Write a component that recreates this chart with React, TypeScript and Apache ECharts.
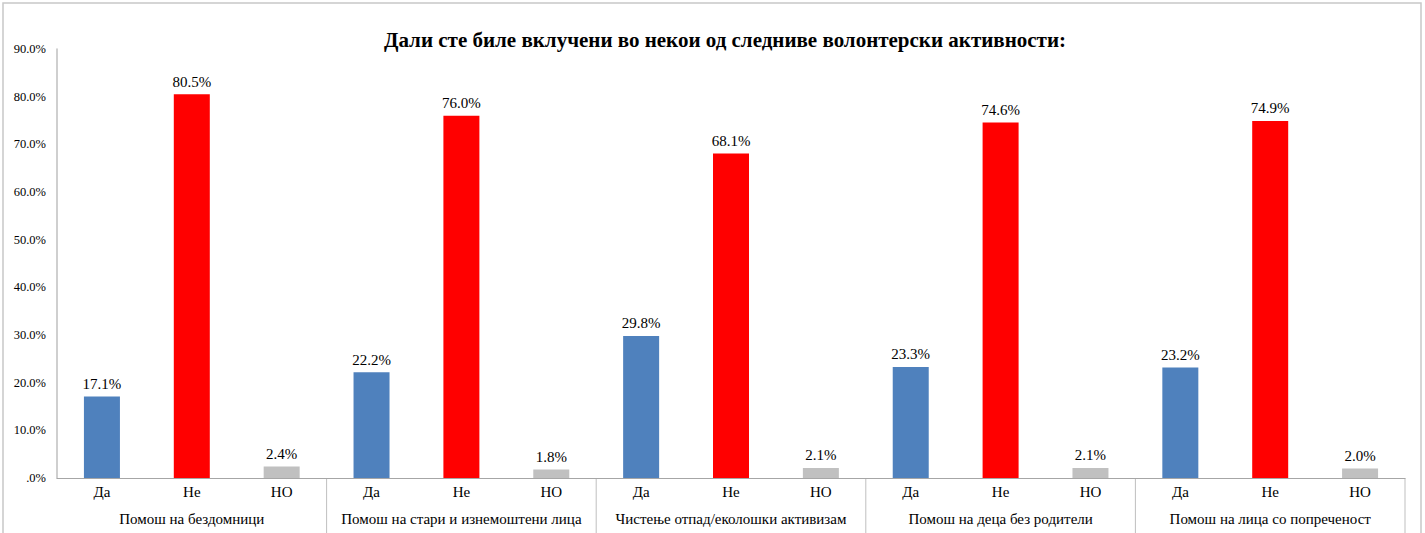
import React, { useEffect, useRef } from "react";
import * as echarts from "echarts";

const groups = [
  "Помош на бездомници",
  "Помош на стари и изнемоштени лица",
  "Чистење отпад/еколошки активизам",
  "Помош на деца без родители",
  "Помош на лица со попреченост",
];
const answers = ["Да", "Не", "НО"];
const daValues = [17.1, 22.2, 29.8, 23.3, 23.2];
const neValues = [80.5, 76.0, 68.1, 74.6, 74.9];
const noValues = [2.4, 1.8, 2.1, 2.1, 2.0];
const yTicks = [0, 10, 20, 30, 40, 50, 60, 70, 80, 90];
const title = "Дали сте биле вклучени во некои од следниве волонтерски активности:";

const colors = ["#4F81BD", "#FF0000", "#C0C0C0"];
const FONT = "Liberation Serif, DejaVu Serif, serif";

export default function App() {
  const ref = useRef<HTMLDivElement>(null);
  useEffect(() => {
    if (!ref.current) return;
    const chart = echarts.init(ref.current, null, { renderer: "svg" });
    const cats: string[] = [];
    const data: any[] = [];
    groups.forEach((g, gi) => {
      const vals = [daValues[gi], neValues[gi], noValues[gi]];
      answers.forEach((a, ai) => {
        cats.push(a);
        data.push({ value: vals[ai], itemStyle: { color: colors[ai] } });
      });
    });
    chart.setOption({
      animation: false,
      textStyle: { fontFamily: FONT },
      title: {
        text: title,
        left: 720,
        textAlign: "center",
        top: 24,
        textStyle: { fontFamily: FONT, fontSize: 21, fontWeight: "bold", color: "#000" },
      },
      grid: { left: 57, right: 20, top: 49, bottom: 55, containLabel: false },
      xAxis: [
        {
          type: "category",
          data: cats,
          position: "bottom",
          axisLine: { show: true, lineStyle: { color: "#A6A6A6", width: 1 } },
          axisTick: { show: false },
          axisLabel: { interval: 0, margin: 6, fontSize: 15, color: "#000", fontFamily: FONT },
        },
        {
          type: "category",
          data: groups,
          position: "bottom",
          axisLine: { show: false },
          axisTick: { show: false },
          axisLabel: { interval: 0, margin: 33, fontSize: 15, color: "#000", fontFamily: FONT },
        },
      ],
      yAxis: {
        type: "value",
        min: 0,
        max: 90,
        interval: 10,
        axisLine: { show: true, lineStyle: { color: "#BFBFBF", width: 1.5 } },
        axisTick: { show: false },
        splitLine: { show: false },
        axisLabel: {
          margin: 11,
          fontSize: 12.5,
          color: "#000",
          fontFamily: FONT,
          formatter: (v: number) => (yTicks.includes(v) ? (v === 0 ? ".0%" : v.toFixed(1) + "%") : ""),
        },
      },
      series: [
        {
          type: "bar",
          xAxisIndex: 0,
          data,
          barWidth: 36,
          label: {
            show: true,
            position: "top",
            distance: 5,
            fontSize: 15,
            color: "#000",
            fontFamily: FONT,
            formatter: (p: any) => p.value.toFixed(1) + "%",
          },
        },
      ],
    });

    // group separators derived from the category axis scale
    const px = (i: number) => chart.convertToPixel({ xAxisIndex: 0 }, i) as number;
    const band = px(1) - px(0);
    const y0 = chart.convertToPixel({ yAxisIndex: 0 }, 0) as number;
    const seps: any[] = [];
    for (let k = 1; k <= groups.length; k++) {
      const x = px(k * answers.length - 1) + band / 2;
      seps.push({
        type: "line",
        shape: { x1: x, y1: y0, x2: x, y2: y0 + 70 },
        style: { stroke: "#BFBFBF", lineWidth: 1 },
        silent: true,
      });
    }
    chart.setOption({
      graphic: [
        {
          type: "rect",
          shape: { x: 3, y: 3, width: 1418, height: 600 },
          style: { fill: "none", stroke: "#C8C8C8", lineWidth: 1.5 },
          silent: true,
        },
        ...seps,
      ],
    });
    return () => chart.dispose();
  }, []);
  return (
    <div
      ref={ref}
      style={{ position: "absolute", left: 0, top: 0, width: 1425, height: 533, background: "#fff" }}
    />
  );
}
